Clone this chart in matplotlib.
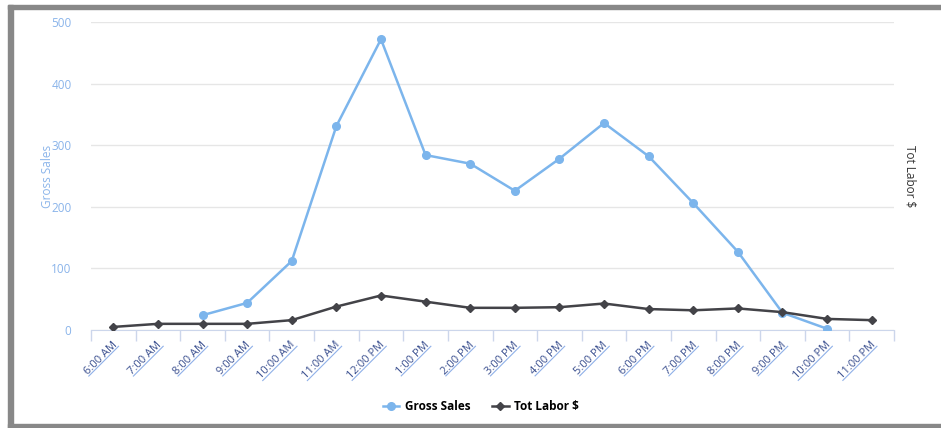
import matplotlib
matplotlib.use("Agg")
import numpy as np
import matplotlib.pyplot as plt
from matplotlib.patches import Rectangle
from matplotlib.lines import Line2D
from matplotlib.font_manager import FontProperties
import matplotlib.transforms as mtransforms

hours = ["6:00 AM", "7:00 AM", "8:00 AM", "9:00 AM", "10:00 AM", "11:00 AM",
         "12:00 PM", "1:00 PM", "2:00 PM", "3:00 PM", "4:00 PM", "5:00 PM",
         "6:00 PM", "7:00 PM", "8:00 PM", "9:00 PM", "10:00 PM", "11:00 PM"]
gross_sales = [None, None, 24, 44, 112, 331, 472, 284, 270, 226, 278, 336,
               282, 206, 127, 28, 2, None]
tot_labor = [5, 10, 10, 10, 16, 38, 56, 46, 36, 36, 37, 43,
             34, 32, 35, 29, 18, 16]
y_ticks = [0, 100, 200, 300, 400, 500]

BLUE = "#7cb5ec"
DARK = "#434348"
LABEL_BLUE = "#8ab4ea"
AXIS_LINE = "#ccd6eb"
LINK = "#3a4f8f"

plt.rcParams["font.family"] = ["Open Sans", "DejaVu Sans"]

fig = plt.figure(figsize=(9.41, 4.28), dpi=100)
W, H = 941, 428
ax = fig.add_axes([91 / W, 1 - 330 / H, (894 - 91) / W, (330 - 22) / H])
ax2 = ax.twinx()

x = list(range(len(hours)))
gx = [i for i, v in zip(x, gross_sales) if v is not None]
gy = [v for v in gross_sales if v is not None]

ax.plot(gx, gy, color=BLUE, lw=1.8, marker="o", ms=5.5, zorder=3)
ax2.plot(x, tot_labor, color=DARK, lw=1.8, marker="D", ms=4.5, zorder=3)

for a in (ax, ax2):
    a.set_xlim(-0.5, len(hours) - 0.5)
    a.set_ylim(0, 500)
    for s in a.spines.values():
        s.set_visible(False)

ax.set_yticks(y_ticks)
ax.set_yticklabels([str(v) for v in y_ticks], color=LABEL_BLUE, fontsize=8.5)
ax.tick_params(axis="y", length=0, pad=14)
ax.grid(axis="y", color="#e6e6e6", lw=1)
ax.set_axisbelow(True)
ax.set_ylabel("Gross Sales", color=LABEL_BLUE, fontsize=8.5, labelpad=-2)

ax2.set_yticks(y_ticks)
ax2.set_yticklabels([])
ax2.tick_params(axis="y", length=0)
ax2.set_ylabel("Tot Labor $", color="#333333", fontsize=8.5, rotation=-90,
               labelpad=13)

# category axis with ticks at band edges
ax.spines["bottom"].set_visible(True)
ax.spines["bottom"].set_color(AXIS_LINE)
ax.set_xticks([i - 0.5 for i in range(len(hours) + 1)])
ax.set_xticklabels([])
ax.tick_params(axis="x", length=8, color=AXIS_LINE, width=1)

# rotated, underlined category labels (link style)
renderer = fig.canvas.get_renderer()
fp = FontProperties(family=["Open Sans", "DejaVu Sans"], size=8)
d = np.array([np.cos(np.pi / 4), np.sin(np.pi / 4)])
down = np.array([np.sin(np.pi / 4), -np.cos(np.pi / 4)])
offset = mtransforms.ScaledTranslation(4 / 100, -15 / 100, fig.dpi_scale_trans)
trans = ax.get_xaxis_transform() + offset
for i, h in enumerate(hours):
    ax.text(i, 0, h, transform=trans, rotation=45, ha="right", va="baseline",
            rotation_mode="anchor", color=LINK, fontproperties=fp,
            clip_on=False)
    w, _, _ = renderer.get_text_width_height_descent(h, fp, ismath=False)
    anchor = np.array(trans.transform((i, 0)))
    p1 = anchor + down * 1.8
    p0 = p1 - d * w
    pts = fig.transFigure.inverted().transform([p0, p1])
    fig.add_artist(Line2D(pts[:, 0], pts[:, 1], color="#8fb0e8", lw=0.8,
                          transform=fig.transFigure))

# legend
handles = [Line2D([], [], color=BLUE, marker="o", lw=1.8, ms=5.5),
           Line2D([], [], color=DARK, marker="D", lw=1.8, ms=4.5)]
fig.legend(handles, ["Gross Sales", "Tot Labor $"], loc="center",
           bbox_to_anchor=(481 / W, 1 - 407 / H), ncol=2, frameon=False,
           prop={"weight": "bold", "size": 8.5}, handlelength=1.4,
           handletextpad=0.5, columnspacing=1.8)

# frame
gray = "#888888"
fig.patches.append(Rectangle((8 / W, 0), 5 / W, 1 - 5 / H,
                             transform=fig.transFigure, color=gray, zorder=0))
fig.patches.append(Rectangle((8 / W, 1 - 9 / H), 1 - 8 / W, 4 / H,
                             transform=fig.transFigure, color=gray, zorder=0))
fig.patches.append(Rectangle((8 / W, 0), 1 - 8 / W, 4 / H,
                             transform=fig.transFigure, color=gray, zorder=0))

fig.savefig("out.png", dpi=100)
